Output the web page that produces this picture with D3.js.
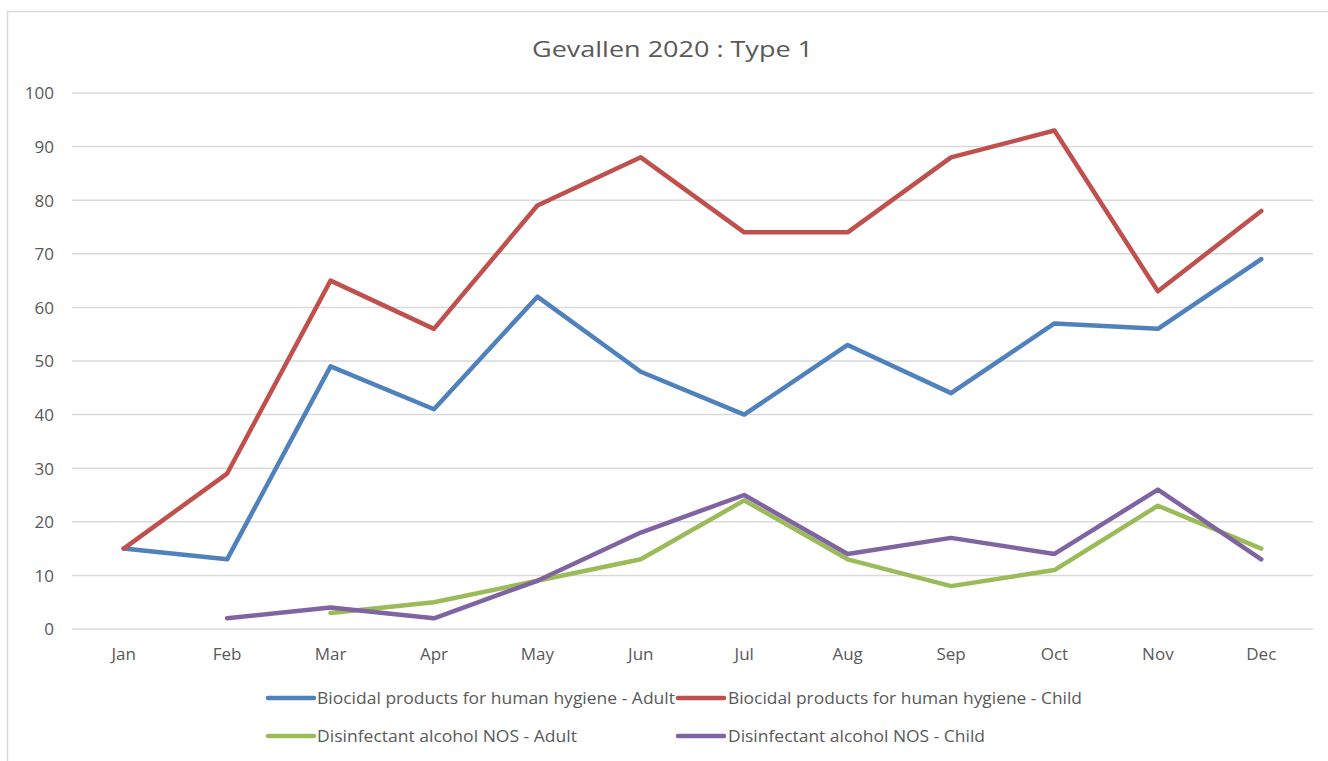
<!DOCTYPE html>
<html>
<head>
<meta charset="utf-8">
<script src="https://cdn.jsdelivr.net/npm/d3@7"></script>
<style>
  html, body { margin: 0; padding: 0; background: #fff; }
  svg { display: block; }
  text { font-family: "Open Sans", "Noto Sans", sans-serif; fill: #595959; }
</style>
</head>
<body>
<svg id="chart" width="1328" height="761"></svg>
<script>
const title = "Gevallen 2020 : Type 1";
const months = ["Jan","Feb","Mar","Apr","May","Jun","Jul","Aug","Sep","Oct","Nov","Dec"];
const yTicks = [0,10,20,30,40,50,60,70,80,90,100];
const seriesNames = [
  "Biocidal products for human hygiene - Adult",
  "Biocidal products for human hygiene - Child",
  "Disinfectant alcohol NOS - Adult",
  "Disinfectant alcohol NOS - Child"
];
const seriesColors = ["#4F81BD", "#C0504D", "#9BBB59", "#8064A2"];
const biocidalAdult = [15, 13, 49, 41, 62, 48, 40, 53, 44, 57, 56, 69];
const biocidalChild = [15, 29, 65, 56, 79, 88, 74, 74, 88, 93, 63, 78];
const alcoholAdult  = [null, null, 3, 5, 9, 13, 24, 13, 8, 11, 23, 15];
const alcoholChild  = [null, 2, 4, 2, 9, 18, 25, 14, 17, 14, 26, 13];
const seriesValues = [biocidalAdult, biocidalChild, alcoholAdult, alcoholChild];

(function () {
const svg = d3.select("#chart");

// outer chart border
svg.append("path")
  .attr("d", "M7.5,762 L7.5,11.5 L1330,11.5")
  .attr("fill", "none").attr("stroke", "#d9d9d9").attr("stroke-width", 1.5);

const plotLeft = 72, plotRight = 1313, plotTop = 93, plotBottom = 629;

const x = d3.scaleBand().domain(months).range([plotLeft, plotRight]);
const y = d3.scaleLinear().domain([0, 100]).range([plotBottom, plotTop]);

// title
svg.append("text")
  .attr("x", 672.5).attr("y", 57)
  .attr("text-anchor", "middle")
  .attr("font-size", 21)
  .attr("textLength", 281).attr("lengthAdjust", "spacingAndGlyphs")
  .text(title);

// gridlines
svg.append("g").selectAll("line").data(yTicks).join("line")
  .attr("x1", plotLeft).attr("x2", plotRight)
  .attr("y1", d => y(d)).attr("y2", d => y(d))
  .attr("stroke", "#d9d9d9").attr("stroke-width", 1.5);

// y axis labels
const yAxis = d3.axisLeft(y).tickValues(yTicks).tickSize(0).tickPadding(0);
const gy = svg.append("g").attr("transform", `translate(${54},0)`).call(yAxis);
gy.select(".domain").remove();
gy.selectAll("text").attr("font-size", 17).attr("fill", "#595959")
  .attr("font-family", '"Open Sans", sans-serif').attr("dy", "0.35em");

// x axis labels
const xAxis = d3.axisBottom(x).tickSize(0).tickPadding(0);
const gx = svg.append("g").attr("transform", `translate(0,${plotBottom})`).call(xAxis);
gx.select(".domain").remove();
gx.selectAll("text").attr("font-size", 17).attr("fill", "#595959")
  .attr("font-family", '"Open Sans", sans-serif').attr("y", 19).attr("dy", "0.71em");

// lines
const line = d3.line()
  .defined(d => d.v !== null)
  .x(d => x(d.m) + x.bandwidth() / 2)
  .y(d => y(d.v));

seriesValues.forEach((vals, i) => {
  const data = months.map((m, j) => ({ m, v: vals[j] }));
  svg.append("path")
    .datum(data)
    .attr("fill", "none")
    .attr("stroke", seriesColors[i])
    .attr("stroke-width", 4.5)
    .attr("stroke-linejoin", "round")
    .attr("stroke-linecap", "round")
    .attr("d", line);
});

// legend
const legendPos = [
  { sx: 268, tx: 317, y: 698, w: 358 },
  { sx: 678, tx: 728, y: 698, w: 354 },
  { sx: 268, tx: 317, y: 736, w: 260 },
  { sx: 678, tx: 728, y: 736, w: 257 }
];
seriesNames.forEach((name, i) => {
  const p = legendPos[i];
  svg.append("line")
    .attr("x1", p.sx).attr("x2", p.sx + 46)
    .attr("y1", p.y).attr("y2", p.y)
    .attr("stroke", seriesColors[i]).attr("stroke-width", 4.5)
    .attr("stroke-linecap", "round");
  svg.append("text")
    .attr("x", p.tx).attr("y", p.y).attr("dy", "0.35em")
    .attr("font-size", 17)
    .attr("textLength", p.w).attr("lengthAdjust", "spacingAndGlyphs")
    .text(name);
});
})();
</script>
</body>
</html>
